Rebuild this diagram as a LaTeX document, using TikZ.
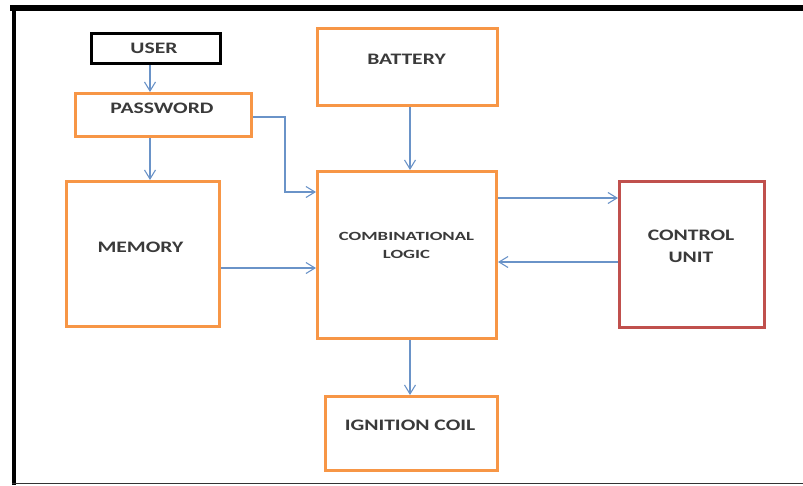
\documentclass[tikz,border=0pt]{standalone}
\usepackage{fontspec}
\usetikzlibrary{arrows.meta}
\newfontfamily\lblfont[FakeStretch=1.35]{Carlito}
\newfontfamily\lblfontwide[FakeStretch=1.5]{Carlito}
\definecolor{boxorange}{HTML}{F79646}
\definecolor{boxred}{HTML}{C0504D}
\definecolor{arrowblue}{HTML}{6A93C8}
\definecolor{txtgrey}{HTML}{3A3A3A}
\tikzset{
  box/.style={draw=boxorange, line width=3pt, inner sep=0pt, fill=white},
  userbox/.style={draw=black, line width=3pt, inner sep=0pt},
  ctrlbox/.style={draw=boxred, line width=3pt, inner sep=0pt},
  lbl/.style={inner sep=0pt, text=txtgrey, font=\lblfont\bfseries\fontsize{16}{22}\selectfont, align=center},
  lblsmall/.style={inner sep=0pt, text=txtgrey, font=\lblfontwide\bfseries\fontsize{12.5}{17.5}\selectfont, align=center},
  arr/.style={draw=arrowblue, line width=1.1pt, -{Straight Barb[length=9pt,width=11pt,line width=1.1pt]}}
}
\begin{document}
\begin{tikzpicture}[x=1pt,y=-1pt]
\useasboundingbox (0,0) rectangle (803,485);
% frame
\fill[black] (10,5) rectangle (803,11);
\fill[black] (12,5) rectangle (16,485);
\draw[black!80, line width=1.5pt] (12,483.5) -- (803,483.5);
% boxes
\node[userbox, minimum width=129pt, minimum height=30pt] (user) at (156,48.5) {};
\node[box, minimum width=176pt, minimum height=43pt] (pwd) at (163.5,115) {};
\node[box, minimum width=180pt, minimum height=77pt] (bat) at (407.5,67) {};
\node[box, minimum width=153pt, minimum height=145pt] (mem) at (143,254) {};
\node[box, minimum width=179pt, minimum height=167pt] (comb) at (407,255) {};
\node[ctrlbox, minimum width=145pt, minimum height=146pt] (ctrl) at (692,254.5) {};
\node[box, minimum width=172pt, minimum height=74pt] (ign) at (411.5,433.5) {};
% labels
\node[lbl] (tuser) at (154,48) {USER};
\node[lbl] (tpwd) at (162,108) {PASSWORD};
\node[lbl] (tbat) at (406.5,59.5) {BATTERY};
\node[lbl] (tmem) at (140.5,247) {MEMORY};
\node[lblsmall] (tcomb) at (406.5,245.5) {COMBINATIONAL\\LOGIC};
\node[lbl] (tctrl) at (691,246) {CONTROL\\UNIT};
\node[lbl] (tign) at (410,425) {IGNITION COIL};
% connectors
\draw[arr] (150,0 |- user.south) -- (150,0 |- pwd.north);
\draw[arr] (150,0 |- pwd.south) -- (150,0 |- mem.north);
\draw[arr] (pwd.east |- 0,117) -- (285,117) -- (285,192) -- (comb.west |- 0,192);
\draw[arr] (410,0 |- bat.south) -- (410,0 |- comb.north);
\draw[arr] (mem.east |- 0,268) -- (comb.west |- 0,268);
\draw[arr] (comb.east |- 0,198) -- (ctrl.west |- 0,198);
\draw[arr] (ctrl.west |- 0,262) -- (comb.east |- 0,262);
\draw[arr] (410,0 |- comb.south) -- (410,0 |- ign.north);
\end{tikzpicture}
\end{document}
